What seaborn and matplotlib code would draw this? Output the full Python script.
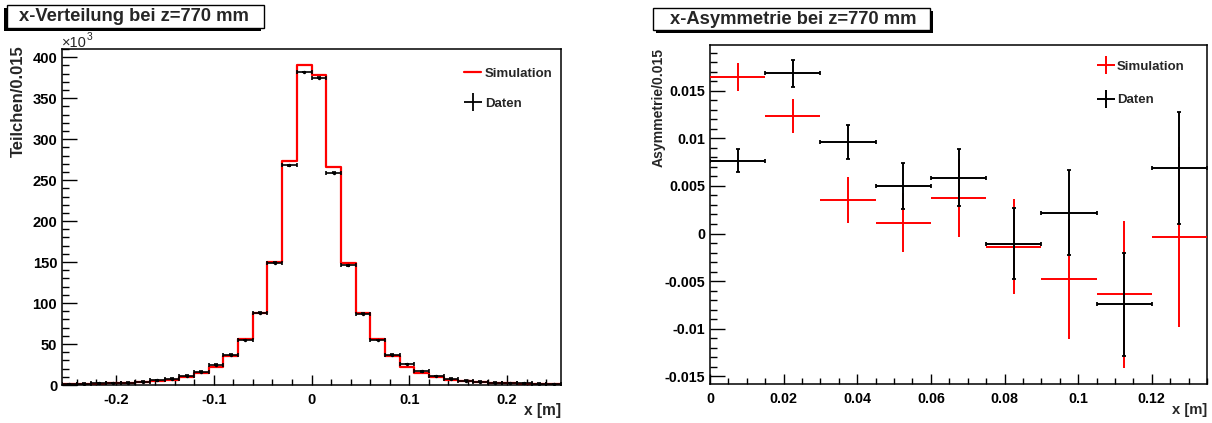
import numpy as np
import pandas as pd
import matplotlib
matplotlib.use("Agg")
import matplotlib.pyplot as plt
import seaborn as sns
from matplotlib.ticker import MultipleLocator, FuncFormatter
from matplotlib.lines import Line2D
from matplotlib.patches import Rectangle

# ---------------- data ----------------
bin_width = 0.015
hist_edges = [round(-0.255 + bin_width * i, 4) for i in range(35)]
# Counts per bin in units of 10^3 (left panel)
sim_counts = [1.0, 1.2, 1.5, 2.0, 2.5, 3.2, 4.5, 6.0, 10.0, 14.6, 22.4, 35.4, 55.7, 88, 150, 273, 390,
              378, 266, 149, 88, 55.7, 35.4, 22.4, 15.0, 9.3, 6.1, 4.5, 3.2, 2.5, 2.0, 1.6, 1.3, 1.0]
dat_counts = [1.2, 1.5, 1.9, 2.4, 3.0, 4.0, 5.5, 7.7, 11.4, 16.3, 24.8, 37, 55, 88, 149, 268, 382,
              375, 259, 146, 87, 55, 37, 25.6, 16.7, 11.0, 7.7, 5.3, 4.0, 3.0, 2.5, 2.0, 1.6, 1.3]

# Asymmetry (right panel)
asym_x = [0.0075, 0.0225, 0.0375, 0.0525, 0.0675, 0.0825, 0.0975, 0.1125, 0.1275]
asym_sim = [0.01645, 0.01232, 0.0035, 0.00112, 0.00374, -0.0014, -0.00473, -0.00638, -0.00036]
asym_sim_err = [0.0015, 0.0018, 0.0024, 0.0031, 0.0041, 0.0050, 0.0063, 0.0077, 0.0095]
asym_dat = [0.00763, 0.01681, 0.00959, 0.00497, 0.00588, -0.00105, 0.0022, -0.00743, 0.00689]
asym_dat_err = [0.0012, 0.0014, 0.0018, 0.0024, 0.0030, 0.0037, 0.0045, 0.0054, 0.0059]

titles = ["x-Verteilung bei z=770 mm", "x-Asymmetrie bei z=770 mm"]
ylabels = ["Teilchen/0.015", "Asymmetrie/0.015"]
xlabel = "x [m]"
legend_labels = ["Simulation", "Daten"]

# ---------------- style ----------------
sns.set_theme(style="ticks")
plt.rcParams["font.family"] = ["Liberation Sans", "DejaVu Sans"]
plt.rcParams["font.weight"] = "bold"
plt.rcParams["axes.linewidth"] = 1.1

W, H = 1212, 423
fig = plt.figure(figsize=(W / 100, H / 100), dpi=100)
fig.patch.set_facecolor("white")

def fx(px):
    return px / W

def fy(py):
    return 1 - py / H

axL = fig.add_axes([fx(62), fy(385), fx(561) - fx(62), fy(49) - fy(385)])
axR = fig.add_axes([fx(710), fy(384), fx(1207) - fx(710), fy(45) - fy(384)])

def fmt(v, pos):
    v = round(v, 6)
    if v == 0:
        return "0"
    return f"{v:g}"

# ---------------- left panel ----------------
edges_arr = np.array(hist_edges)
centers = (edges_arr[:-1] + edges_arr[1:]) / 2
df = pd.DataFrame({"x": centers, "sim": sim_counts, "dat": dat_counts})
sns.histplot(data=df, x="x", weights="sim", bins=hist_edges, element="step", fill=False,
             color="#ff0000", linewidth=1.6, ax=axL)
axL.errorbar(df["x"], df["dat"], xerr=bin_width / 2, yerr=0.5, fmt="none",
             ecolor="black", elinewidth=1.2, capsize=1.3, capthick=1.2, zorder=4)
sns.scatterplot(data=df, x="x", y="dat", color="black", s=6, edgecolor="black",
                linewidth=0, ax=axL, zorder=5)
axL.set_xlim(-0.255, 0.255)
axL.set_ylim(0, 410)
axL.xaxis.set_major_locator(MultipleLocator(0.1))
axL.xaxis.set_minor_locator(MultipleLocator(0.02))
axL.yaxis.set_major_locator(MultipleLocator(50))
axL.yaxis.set_minor_locator(MultipleLocator(10))

# ---------------- right panel ----------------
axR.errorbar(asym_x, asym_sim, xerr=bin_width / 2, yerr=asym_sim_err, fmt="none",
             ecolor="#ff0000", elinewidth=1.4, capsize=0, zorder=3)
axR.errorbar(asym_x, asym_dat, xerr=bin_width / 2, yerr=asym_dat_err, fmt="none",
             ecolor="black", elinewidth=1.4, capsize=1.3, capthick=1.3, zorder=4)
axR.set_xlim(0, 0.135)
axR.set_ylim(-0.0158, 0.0198)
axR.xaxis.set_major_locator(MultipleLocator(0.02))
axR.xaxis.set_minor_locator(MultipleLocator(0.005))
axR.yaxis.set_major_locator(MultipleLocator(0.005))
axR.yaxis.set_minor_locator(MultipleLocator(0.001))

for ax, tfs in ((axL, 10.6), (axR, 10.3)):
    ax.set_facecolor("white")
    for s in ax.spines.values():
        s.set_visible(True)
        s.set_color("black")
        s.set_linewidth(1.1)
    ax.tick_params(axis="both", which="both", direction="in", top=False, right=False,
                   colors="black", labelsize=tfs, width=1.0)
    ax.tick_params(axis="y", which="major", length=10.5, pad=3.5)
    ax.tick_params(axis="y", which="minor", length=5)
    ax.tick_params(axis="x", which="major", length=7, pad=6)
    ax.tick_params(axis="x", which="minor", length=4)
    ax.xaxis.set_major_formatter(FuncFormatter(fmt))
    ax.yaxis.set_major_formatter(FuncFormatter(fmt))
    ax.grid(False)

axL.set_xlabel(xlabel, fontsize=11.2, fontweight="bold", loc="right")
axL.xaxis.set_label_coords(1.0, -0.054)
axL.set_ylabel(ylabels[0], fontsize=12, fontweight="bold", loc="top")
axL.yaxis.set_label_coords(-0.072, 1.012)

axR.set_xlabel(xlabel, fontsize=10.6, fontweight="bold", loc="right")
axR.xaxis.set_label_coords(1.0, -0.056)
axR.set_ylabel(ylabels[1], fontsize=10.1, fontweight="bold", loc="top")
axR.yaxis.set_label_coords(-0.0895, 0.991)

fig.text(fx(62), fy(47), "×10", fontsize=10.5, ha="left", va="baseline", fontweight="normal")
fig.text(fx(87), fy(40), "3", fontsize=7.5, ha="left", va="baseline", fontweight="normal")

hL = [Line2D([], [], color="#ff0000", lw=1.6),
      Line2D([], [], color="black", lw=0, marker="+", markersize=13, markeredgewidth=1.3)]
legL = axL.legend(hL, legend_labels, loc="upper left", bbox_to_anchor=(0.806, 0.945),
                  frameon=False, fontsize=9.5, handlelength=1.3, handletextpad=0.25,
                  labelspacing=1.35, borderpad=0, borderaxespad=0)
for t in legL.get_texts():
    t.set_fontweight("bold")

hR = [Line2D([], [], color="#ff0000", lw=0, marker="+", markersize=13, markeredgewidth=1.4),
      Line2D([], [], color="black", lw=0, marker="+", markersize=13, markeredgewidth=1.4)]
legR = axR.legend(hR, legend_labels, loc="upper left", bbox_to_anchor=(0.782, 0.954),
                  frameon=False, fontsize=9.5, handlelength=1.1, handletextpad=0.3,
                  labelspacing=1.6, borderpad=0, borderaxespad=0)
for t in legR.get_texts():
    t.set_fontweight("bold")

for ax in (axL, axR):
    for lab in ax.get_xticklabels() + ax.get_yticklabels():
        lab.set_fontweight("bold")

# ---------------- title boxes ----------------
def title_box(x0, y0, x1, y1, dx, text, tx):
    sh = Rectangle((fx(x0 + dx), fy(y1 + 3)), fx(x1) - fx(x0), fy(y0) - fy(y1),
                   transform=fig.transFigure, facecolor="black", edgecolor="black", lw=0)
    fig.add_artist(sh)
    box = Rectangle((fx(x0), fy(y1)), fx(x1) - fx(x0), fy(y0) - fy(y1),
                    transform=fig.transFigure, facecolor="white", edgecolor="black", lw=1.0)
    fig.add_artist(box)
    fig.text(fx(tx), fy((y0 + y1) / 2), text, fontsize=13.2, fontweight="bold",
             ha="center", va="center")

title_box(7, 5, 264, 28, -3, titles[0], 134)
title_box(653, 8, 930, 30, 3, titles[1], 793)

fig.savefig("out.png", dpi=100, facecolor="white")
